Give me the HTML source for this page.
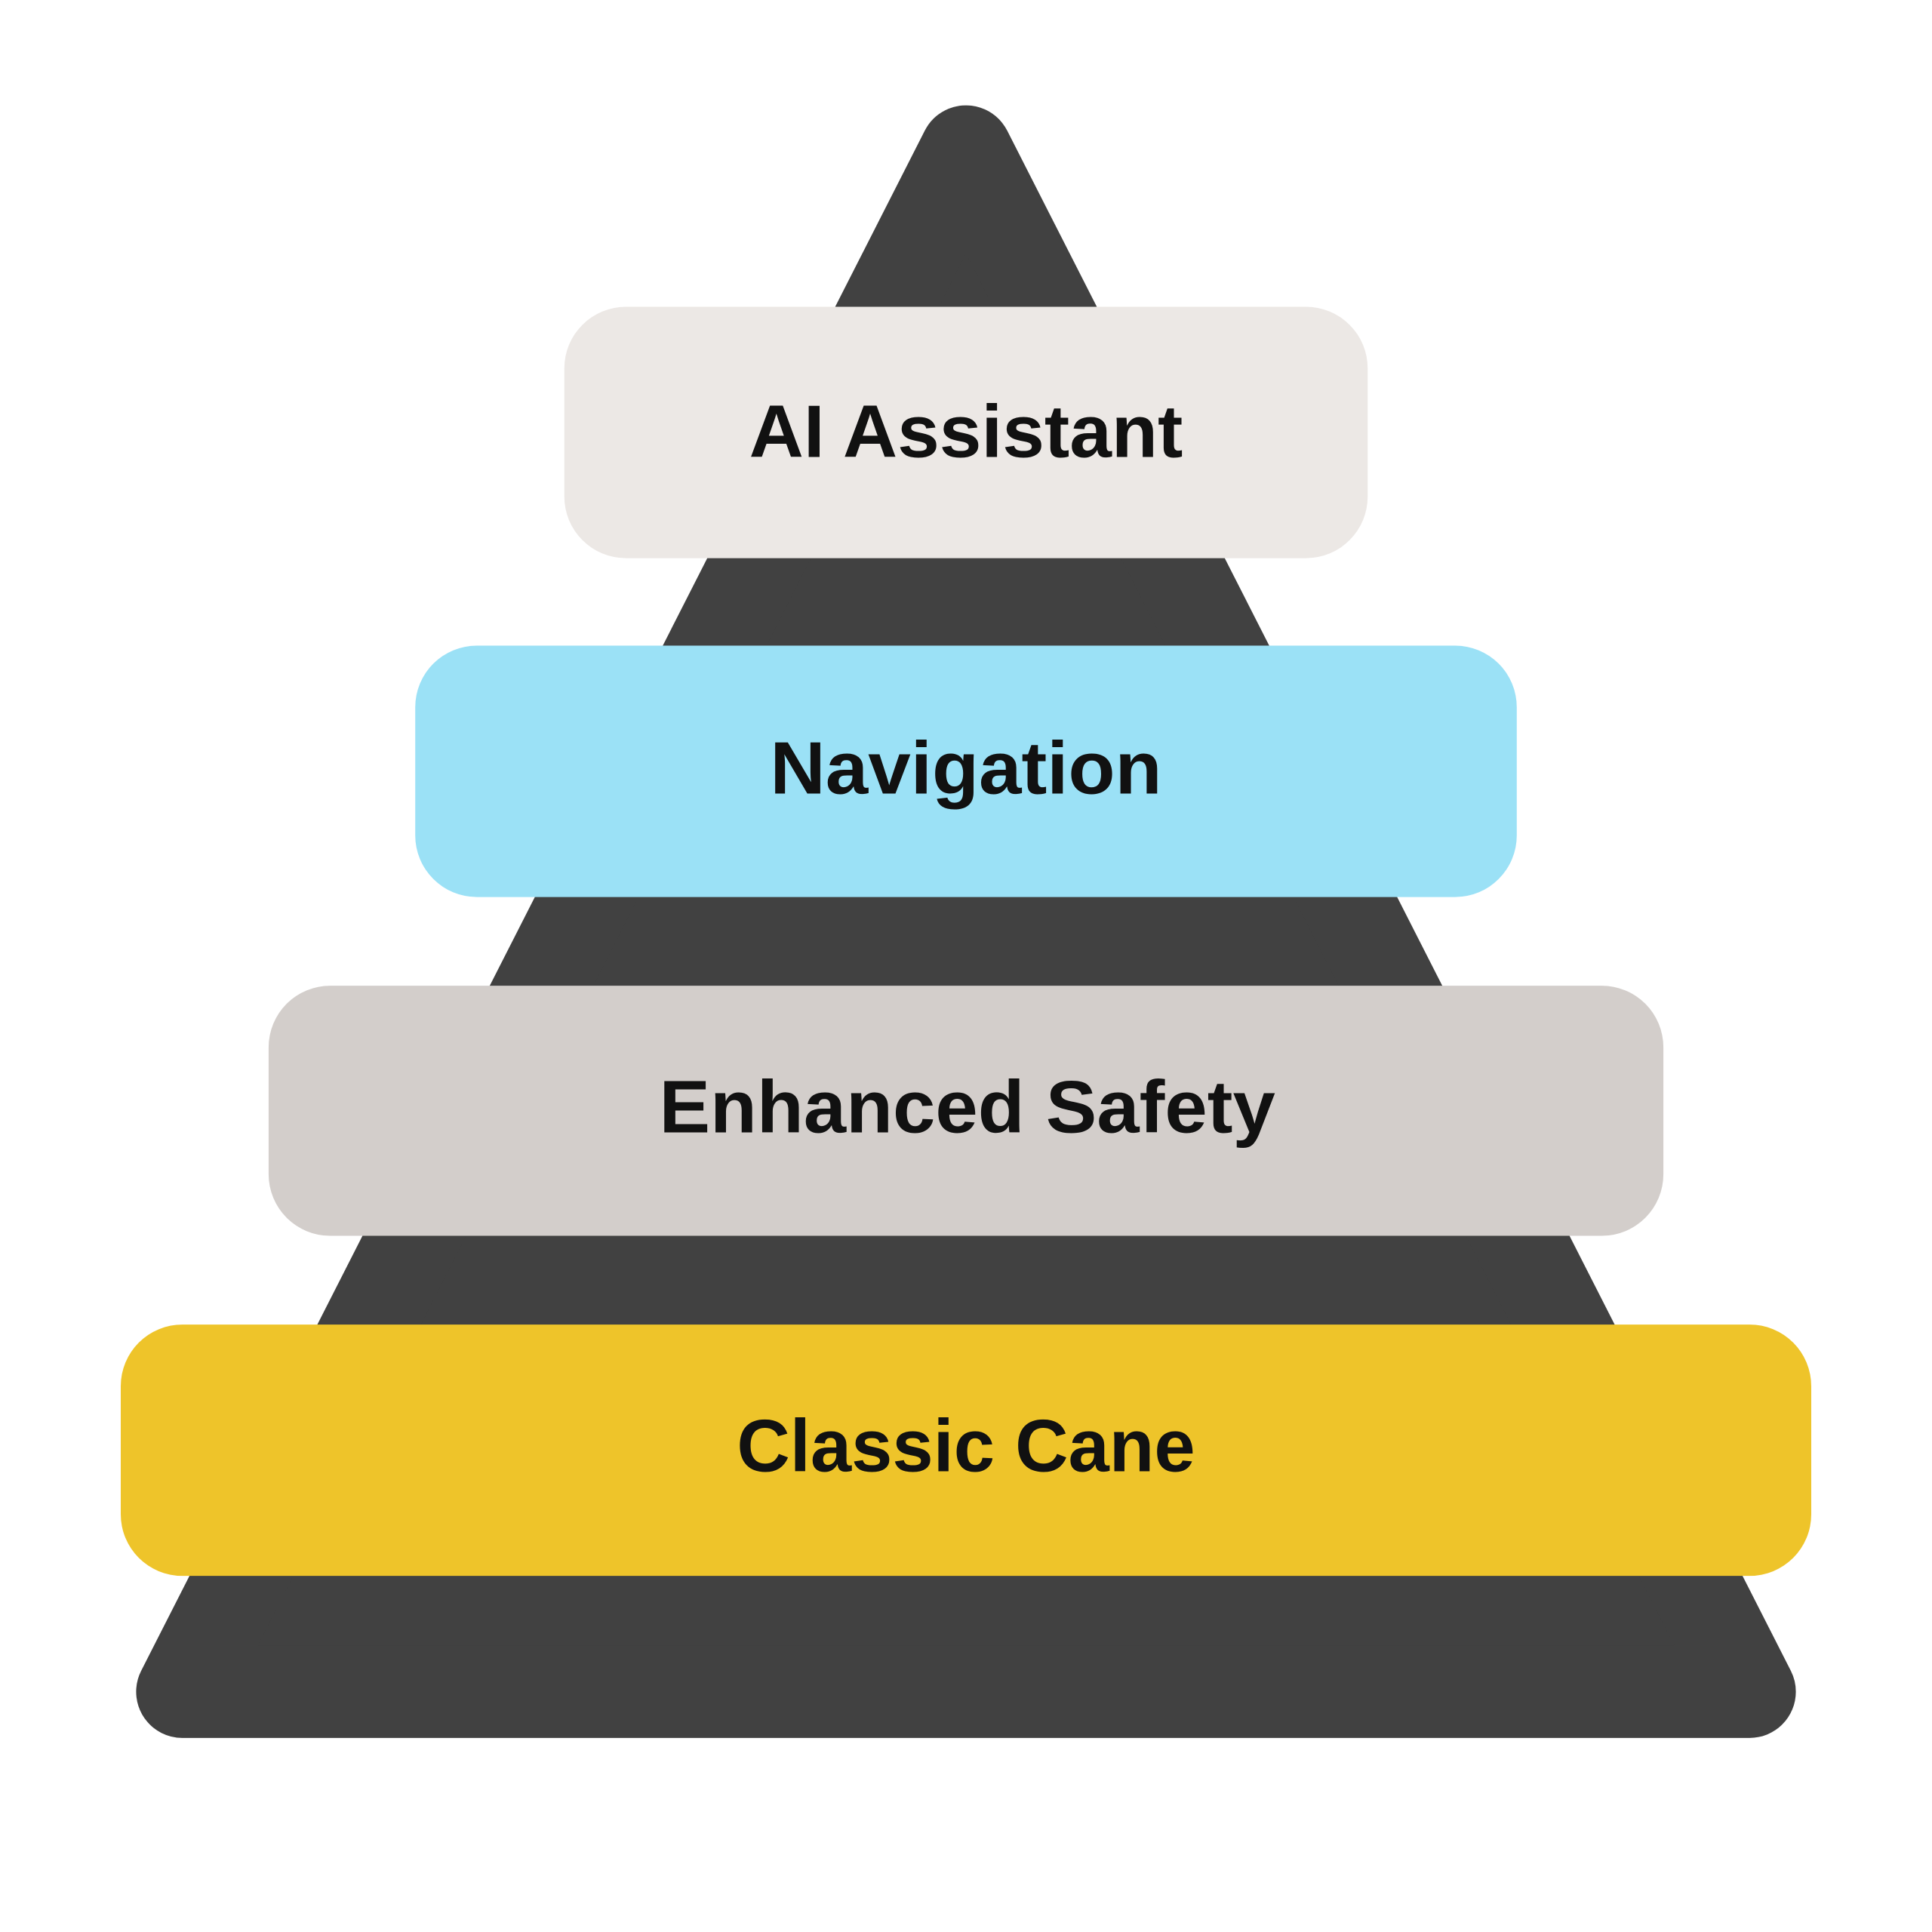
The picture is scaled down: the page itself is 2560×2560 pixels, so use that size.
<!DOCTYPE html>
<html><head><style>html,body{margin:0;padding:0;background:#fff}svg{display:block}</style></head>
<body>
<svg width="2560" height="2560" viewBox="0 0 1568 1568" xmlns="http://www.w3.org/2000/svg">
<polygon points="784,123 148,1373 1420,1373" fill="#414141" stroke="#414141" stroke-width="75" stroke-linejoin="round"/>
<rect x="458" y="249" width="652" height="204" rx="50" fill="#ECE8E5"/>
<rect x="337" y="524" width="894" height="204" rx="50" fill="#9BE1F6"/>
<rect x="218" y="800" width="1132" height="203" rx="50" fill="#D3CECB"/>
<rect x="98" y="1075" width="1372" height="204" rx="50" fill="#EEC42A"/>
<g font-family="Liberation Sans, sans-serif" font-weight="bold" font-size="60" fill="#111" text-anchor="middle">
<text x="784" y="371" textLength="352" lengthAdjust="spacingAndGlyphs">AI Assistant</text>
<text x="784" y="644" textLength="318" lengthAdjust="spacingAndGlyphs">Navigation</text>
<text x="785" y="919" textLength="500" lengthAdjust="spacingAndGlyphs">Enhanced Safety</text>
<text x="784" y="1194" textLength="372" lengthAdjust="spacingAndGlyphs">Classic Cane</text>
</g>
</svg>
</body></html>
